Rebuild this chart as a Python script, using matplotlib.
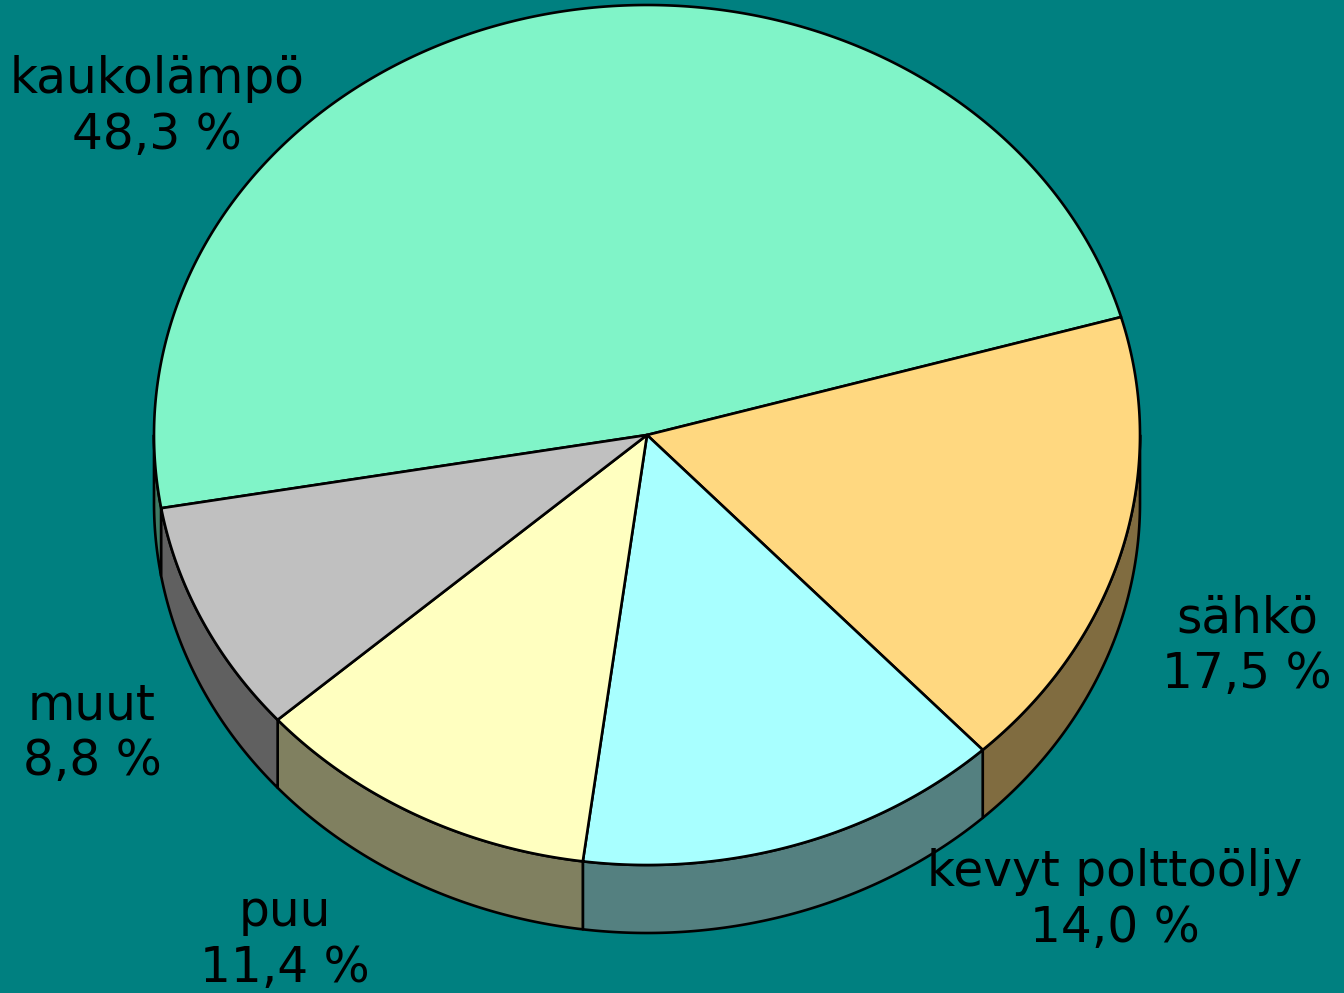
import numpy as np
import matplotlib
matplotlib.use('Agg')
import matplotlib.pyplot as plt
from matplotlib.patches import Polygon

labels = ['kaukolämpö', 'sähkö', 'kevyt polttoöljy', 'puu', 'muut']
shares = [48.3, 17.5, 14.0, 11.4, 8.8]
top_colors = ['#80F4C8', '#FFD880', '#A8FFFF', '#FFFFC0', '#C0C0C0']
side_colors = ['#407A64', '#806C40', '#548080', '#808060', '#606060']
label_pos = [(157, 107), (1247, 646), (1115, 900), (285, 940), (92, 733)]

bg = '#008080'
cx, cy = 647, 435      # centre of the top ellipse (pixels)
rx, ry = 493, 430      # radii
depth = 68             # thickness of the pie
start = 189.8          # angle where the first slice starts, going clockwise

fig = plt.figure(figsize=(13.44, 9.93), dpi=100, facecolor=bg)
ax = fig.add_axes([0, 0, 1, 1])
ax.set_facecolor(bg)
ax.set_xlim(0, 1344)
ax.set_ylim(993, 0)
ax.axis('off')


def ell(t, dz=0):
    t = np.radians(t)
    return cx + rx * np.cos(t), cy - ry * np.sin(t) + dz


# slice angle ranges (clockwise, degrees)
bounds = []
a = start
for s in shares:
    b = a - s / 100.0 * 360.0
    bounds.append((a, b))
    a = b

# sides first: only the part that lies in the front half (angles in (-180, 0))
for (a0, a1), col in zip(bounds, side_colors):
    for off in (0, 360, -360):
        hi, lo = a0 + off, a1 + off
        h = min(hi, 0.0)
        l = max(lo, -180.0)
        if h <= l:
            continue
        t = np.linspace(h, l, 120)
        x, y = ell(t)
        xb, yb = ell(t[::-1], depth)
        pts = np.column_stack([np.concatenate([x, xb]), np.concatenate([y, yb])])
        ax.add_patch(Polygon(pts, closed=True, facecolor=col, edgecolor='black',
                             linewidth=1.9, joinstyle='round', zorder=1))

# top faces
for (a0, a1), col in zip(bounds, top_colors):
    t = np.linspace(a0, a1, 300)
    x, y = ell(t)
    pts = np.column_stack([np.concatenate([[cx], x]), np.concatenate([[cy], y])])
    ax.add_patch(Polygon(pts, closed=True, facecolor=col, edgecolor='black',
                         linewidth=1.9, joinstyle='round', zorder=2))

for lab, s, (lx, ly) in zip(labels, shares, label_pos):
    txt = lab + '\n' + ('%.1f %%' % s).replace('.', ',')
    ax.text(lx, ly, txt, ha='center', va='center', fontsize=35,
            family='DejaVu Sans', color='black', linespacing=1.19, zorder=3)

fig.savefig('out.png', dpi=100, facecolor=bg)
